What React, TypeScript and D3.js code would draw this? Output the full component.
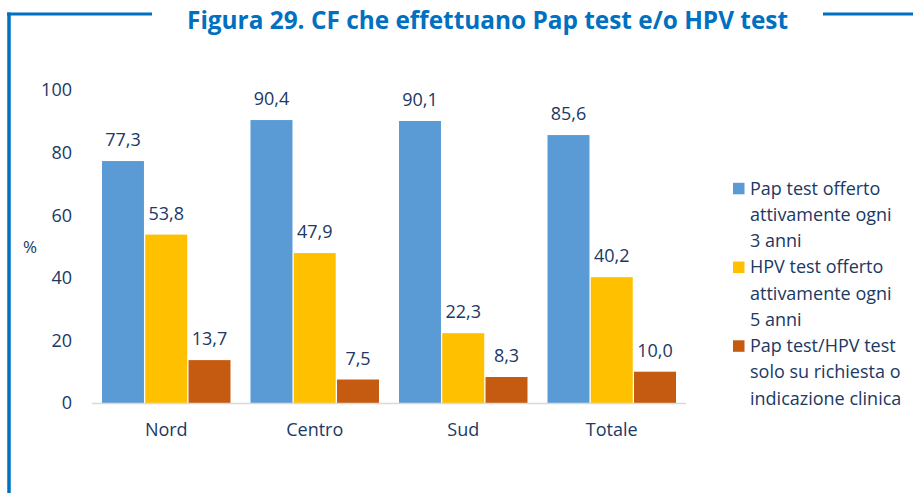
import React from "react";
import * as d3 from "d3";

const categories = ["Nord", "Centro", "Sud", "Totale"];
const seriesNames = [
  "Pap test offerto attivamente ogni 3 anni",
  "HPV test offerto attivamente ogni 5 anni",
  "Pap test/HPV test solo su richiesta o indicazione clinica",
];
const legendLines = [
  ["Pap test offerto", "attivamente ogni", "3 anni"],
  ["HPV test offerto", "attivamente ogni", "5 anni"],
  ["Pap test/HPV test", "solo su richiesta o", "indicazione clinica"],
];
const papValues = [77.3, 90.4, 90.1, 85.6];
const hpvValues = [53.8, 47.9, 22.3, 40.2];
const richiestaValues = [13.7, 7.5, 8.3, 10.0];
const yTicks = [0, 20, 40, 60, 80, 100];
const colors = ["#5B9BD5", "#FFC000", "#C55A11"];
const title = "Figura 29. CF che effettuano Pap test e/o HPV test";

const W = 913;
const H = 493;
const textColor = "#203864";
const frameColor = "#0070C0";
const font = "'Open Sans', 'DejaVu Sans', sans-serif";

export default function App() {
  const series = [papValues, hpvValues, richiestaValues];
  const x0 = d3.scaleBand<string>().domain(categories).range([92, 686]).padding(0);
  const x1 = d3
    .scaleBand<number>()
    .domain([0, 1, 2])
    .range([10, x0.bandwidth() - 10])
    .paddingInner(0.03)
    .paddingOuter(0);
  const y = d3.scaleLinear().domain([0, 100]).range([403, 90]);
  const fmt = (v: number) => v.toFixed(1).replace(".", ",");

  return (
    <svg
      width={W}
      height={H}
      style={{ position: "absolute", left: 0, top: 0, display: "block" }}
      fontFamily={font}
    >
      <rect x={0} y={0} width={W} height={H} fill="#fff" />
      {/* frame */}
      <line x1={7} y1={14} x2={152} y2={14} stroke={frameColor} strokeWidth={3} />
      <line x1={9} y1={12.5} x2={9} y2={H} stroke={frameColor} strokeWidth={3.5} />
      <line x1={823} y1={14} x2={W} y2={14} stroke={frameColor} strokeWidth={3} />
      {/* title */}
      <text
        x={187}
        y={28.5}
        fontSize={24.5}
        fontWeight={700}
        fill={frameColor}
        textLength={601}
        lengthAdjust="spacingAndGlyphs"
      >
        {title}
      </text>
      {/* y tick labels */}
      {yTicks.map((t) => (
        <text
          key={t}
          x={72}
          y={y(t)}
          dy="0.35em"
          textAnchor="end"
          fontSize={18}
          fill={textColor}
        >
          {t}
        </text>
      ))}
      <text x={30} y={247} dy="0.35em" textAnchor="middle" fontSize={17} fill={textColor}>
        %
      </text>
      {/* bars */}
      {categories.map((c, ci) => (
        <g key={c} transform={`translate(${x0(c)},0)`}>
          {series.map((vals, si) => {
            const v = vals[ci];
            const bx = x1(si) as number;
            const bw = x1.bandwidth();
            return (
              <g key={si}>
                <rect x={bx} y={y(v)} width={bw} height={y(0) - y(v)} fill={colors[si]} />
                <text
                  x={bx + bw / 2}
                  y={y(v) - 15}
                  textAnchor="middle"
                  fontSize={18}
                  fill={textColor}
                >
                  {fmt(v)}
                </text>
              </g>
            );
          })}
          <text
            x={x0.bandwidth() / 2}
            y={436}
            textAnchor="middle"
            fontSize={18}
            fill={textColor}
          >
            {c}
          </text>
        </g>
      ))}
      {/* axis line */}
      <line x1={92} y1={403.5} x2={686} y2={403.5} stroke="#D9D9D9" strokeWidth={1.5} />
      {/* legend */}
      {seriesNames.map((name, si) => {
        const top = 188.3 + si * 3 * 26.25;
        return (
          <g key={name}>
            <rect x={733} y={top - 5.5} width={11.5} height={11.5} fill={colors[si]} />
            {legendLines[si].map((ln, li) => (
              <text
                key={li}
                x={750}
                y={top + li * 26.25}
                dy="0.35em"
                fontSize={18}
                fill={textColor}
              >
                {ln}
              </text>
            ))}
          </g>
        );
      })}
    </svg>
  );
}
